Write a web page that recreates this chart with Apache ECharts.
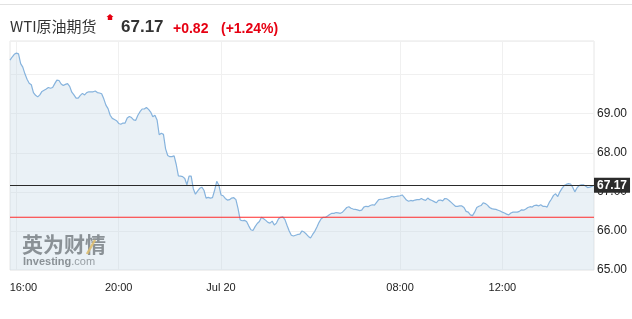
<!DOCTYPE html>
<html>
<head>
<meta charset="utf-8">
<script src="https://cdn.jsdelivr.net/npm/echarts@6/dist/echarts.min.js"></script>
<style>
html,body{margin:0;padding:0;background:#fff;}
#chart{width:632px;height:319px;}
</style>
</head>
<body>
<div id="chart"></div>
<script>
// ---- data ----
const titleText = 'WTI原油期货';
const lastPrice = 67.17;
const prevClose = 66.35;
const changeText = '+0.82';
const changePctText = '(+1.24%)';

// session: 5-minute bars from 15:45, daily break 05:00-06:00
const sessionStart = '15:45';
const breakStart = '05:00';
const breakEnd = '06:00';
const stepMinutes = 5;

const tickTimes = ['16:00', '20:00', '00:00', '08:00', '12:00'];
const tickTexts = ['16:00', '20:00', 'Jul 20', '08:00', '12:00'];
const yTicks = [65, 66, 67, 68, 69];

const prices = [
  70.37,70.45,70.52,70.55,70.53,70.28,70.19,70.02,69.88,69.78,
  69.74,69.54,69.47,69.43,69.48,69.57,69.60,69.63,69.67,69.65,
  69.67,69.77,69.86,69.85,69.76,69.72,69.75,69.77,69.70,69.55,
  69.48,69.40,69.40,69.47,69.52,69.48,69.54,69.56,69.56,69.56,
  69.58,69.54,69.53,69.51,69.38,69.22,69.13,68.96,68.88,68.85,
  68.82,68.75,68.73,68.76,68.76,68.89,68.93,68.90,68.84,68.83,
  68.96,69.05,69.12,69.12,69.16,69.11,69.04,68.92,68.96,68.84,
  68.46,68.50,68.47,68.10,67.93,67.90,67.90,67.92,67.70,67.41,
  67.40,67.39,67.34,67.18,67.40,67.40,67.08,66.94,67.02,67.09,
  67.12,67.04,66.84,66.86,66.84,66.85,67.04,67.27,67.17,66.92,
  66.90,66.83,66.79,66.80,66.84,66.85,66.80,66.57,66.28,66.26,
  66.27,66.24,66.13,66.03,66.01,66.11,66.19,66.24,66.35,66.31,
  66.27,66.22,66.20,66.25,66.15,66.20,66.31,66.35,66.36,66.29,
  66.14,66.00,65.89,65.87,65.89,65.91,65.92,66.00,65.97,65.92,
  65.86,65.82,65.91,65.99,66.10,66.22,66.31,66.35,66.35,66.38,
  66.42,66.45,66.45,66.47,66.46,66.45,66.48,66.54,66.60,66.62,
  66.58,66.56,66.55,66.54,66.52,66.53,66.61,66.63,66.62,66.65,
  66.67,66.66,66.73,66.80,66.81,66.81,66.83,66.84,66.85,66.88,
  66.87,66.88,66.89,66.90,66.92,66.86,66.79,66.76,66.78,66.77,
  66.79,66.80,66.80,66.83,66.80,66.78,66.84,66.80,66.78,66.75,
  66.72,66.78,66.79,66.77,66.83,66.82,66.78,66.73,66.68,66.63,
  66.63,66.64,66.64,66.60,66.50,66.48,66.41,66.39,66.48,66.60,
  66.63,66.65,66.72,66.70,66.66,66.60,66.57,66.56,66.55,66.53,
  66.51,66.48,66.46,66.43,66.41,66.46,66.48,66.48,66.48,66.50,
  66.54,66.53,66.56,66.60,66.62,66.61,66.65,66.66,66.64,66.67,
  66.63,66.63,66.61,66.73,66.81,66.91,66.95,66.88,67.00,67.09,
  67.16,67.19,67.21,67.20,67.12,67.00,67.10,67.16,67.18,67.18,
  67.15,67.11,67.12,67.14,67.17
];

// ---- build time categories (one per price) ----
function toMin(s){ const p = s.split(':'); return (+p[0]) * 60 + (+p[1]); }
function fmt(m){ m = ((m % 1440) + 1440) % 1440; const h = Math.floor(m / 60), mm = m % 60; return (h < 10 ? '0' : '') + h + ':' + (mm < 10 ? '0' : '') + mm; }
const times = [];
(function(){
  let t = toMin(sessionStart);
  const bs = toMin(breakStart), be = toMin(breakEnd);
  while (times.length < prices.length) {
    const d = ((t % 1440) + 1440) % 1440;
    if (!(d >= bs && d < be)) times.push(fmt(t));
    t += stepMinutes;
  }
})();

const isTick = (idx, val) => tickTimes.indexOf(val) >= 0;

const chart = echarts.init(document.getElementById('chart'), null, {renderer: 'canvas'});
const latin = '"Liberation Sans", Arial, sans-serif';
const cjk = '"Noto Sans CJK SC", "Liberation Sans", sans-serif';
const red = '#e60012';

chart.setOption({
  animation: false,
  backgroundColor: '#ffffff',
  grid: {
    left: 10, right: 38, top: 41, bottom: 49,
    show: true, borderColor: '#e6e6e6', borderWidth: 1, backgroundColor: 'transparent'
  },
  xAxis: {
    type: 'category',
    data: times,
    boundaryGap: false,
    axisLine: {show: false},
    axisTick: {show: false},
    axisLabel: {
      interval: isTick,
      margin: 12,
      fontSize: 11,
      fontFamily: latin,
      color: '#222',
      formatter: v => {
        const k = tickTimes.indexOf(v);
        if (k < 0) return '';
        return k === 0 ? '{first|' + tickTexts[k] + '}' : tickTexts[k];
      },
      rich: {first: {fontSize: 11, fontFamily: latin, color: '#222', padding: [0, 0, 0, 14]}}
    },
    splitLine: {show: true, interval: isTick, lineStyle: {color: '#f0f0f0', width: 1}}
  },
  yAxis: {
    type: 'value',
    position: 'right',
    min: 65,
    max: 70.86,
    interval: 1,
    axisLine: {show: false},
    axisTick: {show: false},
    axisLabel: {
      margin: 3,
      fontSize: 12,
      fontFamily: latin,
      color: '#222',
      formatter: v => yTicks.indexOf(Math.round(v * 100) / 100) >= 0 ? v.toFixed(2) : ''
    },
    splitLine: {show: true, lineStyle: {color: '#f0f0f0', width: 1}}
  },
  series: [
    {
      type: 'line',
      name: 'WTI',
      data: prices,
      symbol: 'none',
      smooth: false,
      z: 2,
      lineStyle: {color: '#86b3dd', width: 1.2},
      areaStyle: {color: 'rgba(190,212,228,0.45)', origin: 'start'},
      markLine: {
        silent: true,
        symbol: ['none', 'none'],
        animation: false,
        lineStyle: {color: '#2a2a2a', width: 1, type: 'solid'},
        label: {
          show: true, position: 'end', distance: 0,
          formatter: lastPrice.toFixed(2),
          color: '#fff', backgroundColor: '#2b2b2b',
          fontFamily: latin, fontSize: 12, fontWeight: 'bold',
          padding: [2, 3, 1, 3]
        },
        data: [{yAxis: lastPrice}]
      }
    },
    {
      type: 'line',
      name: 'prevClose',
      data: [[times[0], prevClose], [times[times.length - 1], prevClose]],
      symbol: 'none',
      silent: true,
      z: 3,
      color: '#ff2a2a',
      itemStyle: {color: '#ff2a2a'},
      lineStyle: {color: '#ff2a2a', width: 1.1, type: 'solid'}
    }
  ],
  graphic: [
    {type: 'line', shape: {x1: 0, y1: 4.5, x2: 632, y2: 4.5}, style: {stroke: '#e2e2e2', lineWidth: 1}, silent: true},
    {type: 'text', left: 10, top: 19, style: {text: titleText, font: '15px ' + cjk, fill: '#333'}},
    {type: 'polygon', shape: {points: [[110, 14], [113.5, 17], [112.2, 17], [112.2, 20], [107.8, 20], [107.8, 17], [106.5, 17]]}, style: {fill: red}},
    {type: 'text', left: 121, top: 19, style: {text: lastPrice.toFixed(2), font: 'bold 17px ' + latin, fill: '#333'}},
    {type: 'text', left: 173, top: 22, style: {text: changeText, font: 'bold 14px ' + latin, fill: red}},
    {type: 'text', left: 221, top: 22, style: {text: changePctText, font: 'bold 14px ' + latin, fill: red}},
    {type: 'text', left: 22, top: 234, silent: true, style: {text: '英为财情', font: 'bold 21px ' + cjk, fill: 'rgba(100,100,100,0.9)'}},
    {type: 'line', shape: {x1: 87, y1: 254, x2: 95, y2: 240}, style: {stroke: 'rgba(235,180,60,0.9)', lineWidth: 2.5}, silent: true},
    {type: 'text', left: 23, top: 256, silent: true, style: {
      rich: {a: {font: 'bold 11px ' + latin, fill: 'rgba(100,100,100,0.9)'}, b: {font: '11px ' + latin, fill: 'rgba(120,120,120,0.9)'}},
      text: '{a|Investing}{b|.com}'
    }}
  ]
});
</script>
</body>
</html>
